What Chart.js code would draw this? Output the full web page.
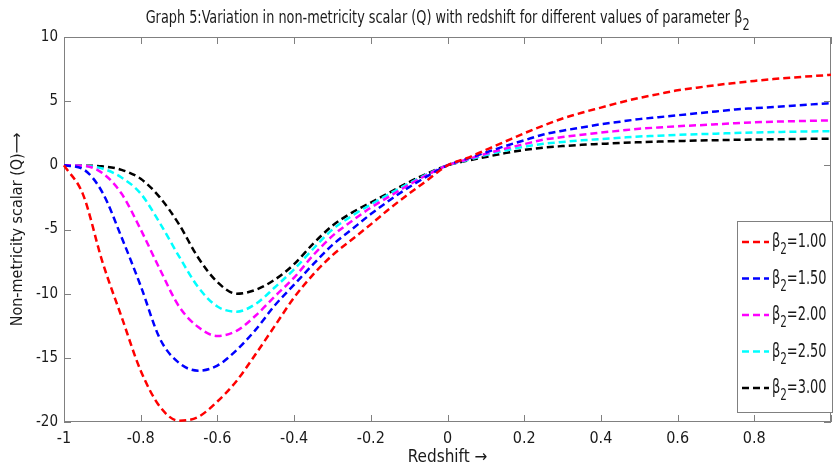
<!DOCTYPE html>
<html>
<head>
<meta charset="utf-8">
<script src="https://cdn.jsdelivr.net/npm/chart.js@4/dist/chart.umd.min.js"></script>
<style>
html, body { margin: 0; padding: 0; background: #fff; }
#wrap { width: 838px; height: 470px; }
</style>
</head>
<body>
<div id="wrap"><canvas id="graph5"></canvas></div>
<script>
// redshift values (x)
var redshift = [-1, -0.95, -0.9, -0.85, -0.8, -0.75, -0.7, -0.65, -0.6, -0.55, -0.5, -0.45, -0.4, -0.35, -0.3, -0.25, -0.2, -0.15, -0.1, -0.05,
    0, 0.05, 0.1, 0.15, 0.2, 0.25, 0.3, 0.35, 0.4, 0.45, 0.5, 0.55, 0.6, 0.65, 0.7, 0.75, 0.8, 0.85, 0.9, 0.95, 1];

// parameter beta_2
var betaValues = ["1.00", "1.50", "2.00", "2.50", "3.00"];

// non-metricity scalar Q for each beta_2
var qBeta100 = [0, -2.3, -7.5, -11.8, -16.0, -18.8, -19.9, -19.6, -18.4, -16.8, -14.7, -12.5, -10.3, -8.5, -7.0, -5.8, -4.6, -3.35, -2.2, -1.1,
    0, 0.55, 1.2, 1.85, 2.5, 3.1, 3.65, 4.1, 4.5, 4.9, 5.25, 5.55, 5.85, 6.05, 6.25, 6.42, 6.58, 6.72, 6.84, 6.95, 7.05];
var qBeta150 = [0, -0.3, -2.1, -5.6, -9.4, -13.5, -15.4, -16.0, -15.6, -14.4, -12.8, -10.9, -9.3, -7.7, -6.2, -5.0, -3.8, -2.7, -1.7, -0.8,
    0, 0.5, 1.0, 1.5, 1.95, 2.4, 2.7, 2.95, 3.2, 3.4, 3.6, 3.75, 3.9, 4.05, 4.2, 4.35, 4.45, 4.55, 4.65, 4.75, 4.85];
var qBeta200 = [0, -0.03, -0.6, -2.2, -5.0, -8.1, -11.0, -12.6, -13.3, -12.9, -11.7, -10.2, -8.75, -7.0, -5.5, -4.35, -3.3, -2.4, -1.5, -0.7,
    0, 0.45, 0.9, 1.3, 1.65, 2.0, 2.2, 2.38, 2.55, 2.7, 2.85, 2.95, 3.05, 3.12, 3.2, 3.28, 3.35, 3.4, 3.44, 3.47, 3.5];
var qBeta250 = [0, -0.03, -0.25, -0.95, -2.2, -4.5, -7.1, -9.5, -11.0, -11.4, -10.8, -9.5, -8.1, -6.5, -5.0, -3.95, -3.05, -2.2, -1.4, -0.65,
    0, 0.4, 0.8, 1.15, 1.45, 1.68, 1.82, 1.95, 2.05, 2.15, 2.25, 2.3, 2.37, 2.42, 2.47, 2.52, 2.56, 2.59, 2.62, 2.64, 2.66];
var qBeta300 = [0, -0.02, -0.08, -0.35, -1.05, -2.5, -4.6, -7.2, -9.1, -10.0, -9.7, -8.9, -7.7, -6.1, -4.7, -3.7, -2.9, -2.1, -1.3, -0.6,
    0, 0.35, 0.65, 0.95, 1.2, 1.38, 1.5, 1.6, 1.67, 1.74, 1.8, 1.85, 1.89, 1.93, 1.96, 1.99, 2.01, 2.03, 2.05, 2.07, 2.08];

var series = [qBeta100, qBeta150, qBeta200, qBeta250, qBeta300];
var lineColors = ["#ff0000", "#0000ff", "#ff00ff", "#00ffff", "#000000"];

var chartTitle = "Graph 5:Variation in non-metricity scalar (Q) with redshift for different values of parameter \u03b2";

var FONT = '"Liberation Sans Narrow", "DejaVu Sans Condensed", "Arial Narrow", sans-serif';
var TEXT = "#1a1a1a";
var AXIS = "#808080";

var datasets = series.map(function (ys, k) {
    return {
        label: "\u03b2\u2082=" + betaValues[k],
        data: redshift.map(function (x, i) { return { x: x, y: ys[i] }; }),
        borderColor: lineColors[k],
        backgroundColor: lineColors[k],
        borderWidth: 2.5,
        borderDash: [7, 4],
        pointRadius: 0,
        fill: false,
        cubicInterpolationMode: "monotone",
        clip: false
    };
});

// write squeezed text (the original uses a very narrow face), returns drawn width
function narrowText(ctx, str, x, y, size, sx) {
    ctx.font = size + "px " + FONT;
    ctx.save();
    ctx.translate(x, y);
    ctx.scale(sx, 1);
    ctx.fillText(str, 0, 0);
    ctx.restore();
    return ctx.measureText(str).width * sx;
}

// box round the plot with inward tick marks, like the original figure
var frameTicks = {
    id: "frameTicks",
    beforeDatasetsDraw: function (chart) {
        var a = chart.chartArea, ctx = chart.ctx;
        var xs = chart.scales.x, ys = chart.scales.y;
        ctx.save();
        ctx.strokeStyle = AXIS;
        ctx.lineWidth = 1;
        ctx.strokeRect(a.left + 0.5, a.top + 0.5, a.right - a.left - 1, a.bottom - a.top - 1);
        ctx.beginPath();
        xs.ticks.forEach(function (t) {
            var px = Math.round(xs.getPixelForValue(t.value)) + 0.5;
            ctx.moveTo(px, a.bottom); ctx.lineTo(px, a.bottom - 7);
            ctx.moveTo(px, a.top); ctx.lineTo(px, a.top + 7);
        });
        ys.ticks.forEach(function (t) {
            var py = Math.round(ys.getPixelForValue(t.value)) + 0.5;
            ctx.moveTo(a.left, py); ctx.lineTo(a.left + 7, py);
            ctx.moveTo(a.right, py); ctx.lineTo(a.right - 7, py);
        });
        ctx.stroke();
        ctx.restore();
    }
};

// title with beta_2, subscript lowered
var titleWithSub = {
    id: "titleWithSub",
    afterDraw: function (chart) {
        var ctx = chart.ctx, a = chart.chartArea;
        var sx = 0.84;
        ctx.save();
        ctx.fillStyle = TEXT;
        ctx.textBaseline = "alphabetic";
        ctx.font = "17px " + FONT;
        var w = (ctx.measureText(chartTitle).width + ctx.measureText("2").width * 0.85) * sx;
        var x = (a.left + a.right) / 2 - w / 2;
        x += narrowText(ctx, chartTitle, x, 23, 17, sx);
        narrowText(ctx, "2", x, 30, 15, sx);
        ctx.restore();
    }
};

// legend box in the lower right, beta with a lowered 2
var betaLegend = {
    id: "betaLegend",
    afterDraw: function (chart) {
        var ctx = chart.ctx;
        var left = 737, top = 221, w = 95, h = 191;
        ctx.save();
        ctx.fillStyle = "#fff";
        ctx.fillRect(left, top, w, h);
        ctx.strokeStyle = AXIS;
        ctx.lineWidth = 1;
        ctx.strokeRect(left + 0.5, top + 0.5, w, h);
        chart.data.datasets.forEach(function (ds, k) {
            var y = 242 + k * 36.5;
            ctx.strokeStyle = ds.borderColor;
            ctx.lineWidth = 2.5;
            ctx.setLineDash([7, 4]);
            ctx.beginPath();
            ctx.moveTo(742, y); ctx.lineTo(769, y);
            ctx.stroke();
            ctx.setLineDash([]);
            ctx.fillStyle = TEXT;
            ctx.textBaseline = "middle";
            var x = 772;
            x += narrowText(ctx, "\u03b2", x, y, 20, 0.72);
            x += narrowText(ctx, "2", x, y + 8, 16, 0.72);
            narrowText(ctx, "=" + betaValues[k], x, y, 20, 0.72);
        });
        ctx.restore();
    }
};

new Chart(document.getElementById("graph5"), {
    type: "line",
    data: { datasets: datasets },
    plugins: [frameTicks, titleWithSub, betaLegend],
    options: {
        responsive: true,
        maintainAspectRatio: false,
        animation: false,
        layout: { padding: { top: 37, right: -2, bottom: 0, left: 0 } },
        plugins: {
            legend: { display: false },
            tooltip: { enabled: false },
            title: { display: false }
        },
        scales: {
            x: {
                type: "linear",
                min: -1,
                max: 1,
                grid: { display: false, drawTicks: false },
                border: { display: false },
                ticks: {
                    stepSize: 0.2,
                    color: TEXT,
                    padding: 7,
                    maxRotation: 0,
                    font: { family: FONT, size: 16 },
                    callback: function (v) {
                        if (Math.abs(v - 1) < 1e-9) return "";
                        return String(+v.toFixed(1));
                    }
                },
                title: {
                    display: true,
                    text: "Redshift \u2192",
                    color: TEXT,
                    font: { family: FONT, size: 17 },
                    padding: { top: 0, bottom: 2 }
                },
                afterFit: function (scale) { scale.height = 48; }
            },
            y: {
                min: -20,
                max: 10,
                grid: { display: false, drawTicks: false },
                border: { display: false },
                ticks: {
                    stepSize: 5,
                    color: TEXT,
                    padding: 6,
                    font: { family: FONT, size: 15 }
                },
                title: {
                    display: true,
                    text: "Non-metricity scalar (Q)\u27f6",
                    color: TEXT,
                    font: { family: FONT, size: 16 },
                    padding: { top: 8, bottom: 4 }
                },
                afterFit: function (scale) { scale.width = 64; }
            }
        }
    }
});
</script>
</body>
</html>
